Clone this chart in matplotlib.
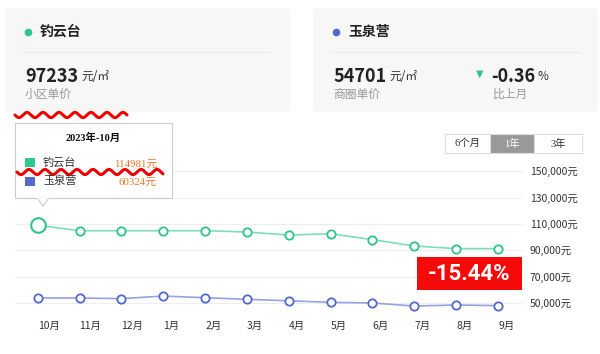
import numpy as np
import matplotlib
matplotlib.use("Agg")
import matplotlib.pyplot as plt
from matplotlib.patches import FancyBboxPatch, Rectangle, Polygon

plt.rcParams['font.family'] = ['Noto Sans CJK SC', 'DejaVu Sans']

# data
months = ["10月", "11月", "12月", "1月", "2月", "3月", "4月", "5月", "6月", "7月", "8月", "9月"]
diaoyuntai = [109000, 104900, 104900, 104900, 104900, 103900, 101600, 102600, 98100, 93300, 91300, 91300]
yuquanying = [53800, 53800, 53300, 55300, 54000, 52800, 51700, 50500, 50000, 47700, 48500, 48000]
y_ticks = [50000, 70000, 90000, 110000, 130000, 150000]
ranges = ["6个月", "1年", "3年"]

green = "#2ec48c"
green_line = "#7fdcb8"
blue = "#5469c9"
blue_line = "#95a3e2"

W, H = 600, 354
fig = plt.figure(figsize=(W / 100, H / 100), dpi=100)

# main chart
ax = fig.add_axes([15 / W, 1 - 315 / H, 507 / W, 155 / H])
x = np.arange(len(months))
ax.plot(x, diaoyuntai, color=green_line, lw=1.2, zorder=3)
ax.plot(x[1:], diaoyuntai[1:], ls='none', marker='o', ms=6, mfc='white', mec=green, mew=1.3, zorder=4)
ax.plot(x[:1], diaoyuntai[:1], ls='none', marker='o', ms=10.5, mfc='white', mec=green, mew=1.5, zorder=4)
ax.plot(x, yuquanying, color=blue_line, lw=1.2, marker='o', ms=6, mfc='white', mec=blue, mew=1.3, zorder=3)

ax.set_xlim(-0.542, 11.573)
ax.set_ylim(40890, 158580)
ax.set_yticks(y_ticks)
ax.set_yticklabels([f"{v:,}元" for v in y_ticks])
ax.yaxis.tick_right()
ax.tick_params(axis='y', length=0, pad=5.5, labelsize=7.5, labelcolor='#333333')
ax.set_xticks(x)
ax.set_xticklabels(months, ha='left')
ax.tick_params(axis='x', length=0, pad=4, labelsize=7.5, labelcolor='#333333')
ax.grid(axis='y', color='#eeeeee', lw=0.8)
for s in ax.spines.values():
    s.set_visible(False)

# overlay in pixel coordinates
ov = fig.add_axes([0, 0, 1, 1], zorder=5)
ov.set_xlim(0, W)
ov.set_ylim(H, 0)
ov.axis('off')
ov.patch.set_alpha(0)

# cards
for x0, x1 in [(5, 290), (313, 598)]:
    ov.add_patch(FancyBboxPatch((x0, 8), x1 - x0, 104, boxstyle="round,pad=0,rounding_size=4",
                                fc='#f7f7f7', ec='none'))
    ov.plot([x0 + 18, x1 - 20], [52, 52], color='#ebebeb', lw=0.8)

ov.plot(28, 32, 'o', color=green, ms=4.5)
ov.text(40, 32, "钓云台", fontsize=10, fontweight='bold', va='center', color='#222222')
ov.text(25, 76, "97233", fontsize=13, fontweight='bold', va='center', color='#222222')
ov.text(81, 77, "元/㎡", fontsize=8.5, va='center', color='#333333')
ov.text(25, 94, "小区单价", fontsize=8.5, va='center', color='#999999')

ov.plot(336, 32, 'o', color=blue, ms=4.5)
ov.text(348, 32, "玉泉营", fontsize=10, fontweight='bold', va='center', color='#222222')
ov.text(333, 76, "54701", fontsize=13, fontweight='bold', va='center', color='#222222')
ov.text(389, 77, "元/㎡", fontsize=8.5, va='center', color='#333333')
ov.text(333, 94, "商圈单价", fontsize=8.5, va='center', color='#999999')
ov.text(480, 74, "▼", fontsize=7, ha='center', va='center', color=green, family='DejaVu Sans')
ov.text(491, 76, "-0.36", fontsize=13, fontweight='bold', va='center', color='#222222')
ov.text(538, 77, "%", fontsize=8.5, va='center', color='#333333')
ov.text(493, 94, "比上月", fontsize=8.5, va='center', color='#999999')

# range buttons
serif = ['Liberation Serif', 'Noto Sans CJK SC']
bx = [445, 490, 534, 582]
for i, lab in enumerate(ranges):
    sel = lab == "1年"
    ov.add_patch(Rectangle((bx[i], 134), bx[i + 1] - bx[i], 19, fc='#999999' if sel else 'white',
                           ec='#dddddd', lw=0.8))
    ov.text((bx[i] + bx[i + 1]) / 2, 143.5, lab, fontsize=7.5, ha='center', va='center',
            color='white' if sel else '#333333', family=serif)

# tooltip
ov.add_patch(Rectangle((15, 123), 157, 75, fc='white', ec='#cccccc', lw=0.8))
ov.add_patch(Polygon([[37, 198], [49, 198], [43, 206]], closed=True, fc='white', ec='#cccccc', lw=0.8))
ov.plot([37.6, 48.4], [198, 198], color='white', lw=1.2)
ov.text(93, 138, "2023年-10月", fontsize=7.5, fontweight='bold', ha='center', va='center',
        color='#111111', family=serif)
ov.add_patch(Rectangle((25, 158), 10, 9, fc='#2dc98f', ec='none'))
ov.add_patch(Rectangle((25, 176.5), 10, 9, fc=blue, ec='none'))
ov.text(43, 162, "钓云台", fontsize=8, va='center', color='#333333')
ov.text(43, 181, "玉泉营", fontsize=8, va='center', color='#333333')
ov.text(157, 164, "114981元", fontsize=7.8, ha='right', va='center', color='#e8772e', family=serif)
ov.text(157, 182, "60324元", fontsize=7.8, ha='right', va='center', color='#e8772e', family=serif)

# red wavy marks
for x0, x1, yc in [(15, 127, 115), (17, 163, 172)]:
    wx = np.linspace(x0, x1, 300)
    ov.plot(wx, yc + 2.6 * np.sin(2 * np.pi * (wx - x0) / 16), color='#ee0000', lw=2.2,
            solid_capstyle='round')

# red badge
ov.add_patch(Rectangle((416.7, 256.7), 105.6, 33.3, fc='#f50a0a', ec='none'))
ov.text(469.5, 274, "-15.44%", fontsize=16, fontweight='bold', ha='center', va='center',
        color='white', family=['Roboto', 'DejaVu Sans'])

fig.savefig("out.png", dpi=100)
